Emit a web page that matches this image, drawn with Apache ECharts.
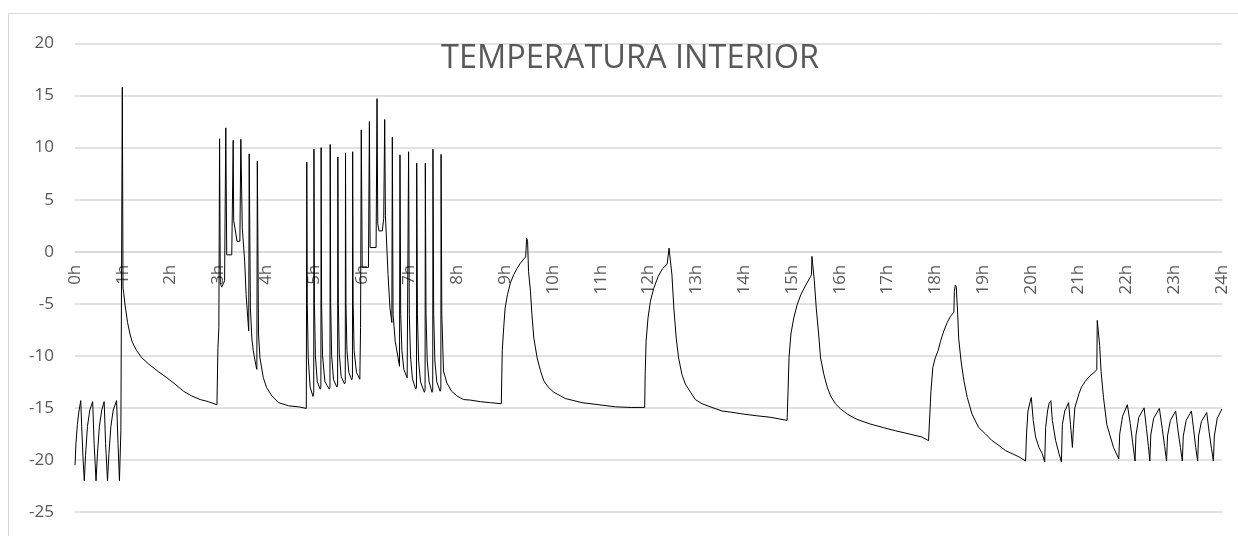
<!DOCTYPE html>
<html>
<head>
<meta charset="utf-8">
<script src="https://cdn.jsdelivr.net/npm/echarts@6/dist/echarts.min.js"></script>
<style>
  html, body { margin: 0; padding: 0; background: #ffffff; }
  #chart { width: 1238px; height: 536px; }
</style>
</head>
<body>
<div id="chart"></div>
<script>
const chartTitle = 'TEMPERATURA INTERIOR';
const hourLabels = ['0h','1h','2h','3h','4h','5h','6h','7h','8h','9h','10h','11h','12h','13h','14h','15h','16h','17h','18h','19h','20h','21h','22h','23h','24h'];
const yTicks = [-25, -20, -15, -10, -5, 0, 5, 10, 15, 20];

// time in hours
const hours = [
  0.00,0.02,0.05,0.08,0.12,0.14,0.17,0.195,0.22,0.26,0.31,0.37,0.40,0.44,0.47,0.51,0.56,0.61,0.64,0.68,0.71,0.75,0.80,0.87,0.90,0.93,0.96,
  0.99,1.005,1.02,1.05,1.10,1.15,1.20,1.29,1.40,1.57,1.74,1.92,2.09,2.27,2.44,2.62,2.79,2.97,
  2.99,3.01,3.025,3.04,3.07,3.13,3.155,3.175,3.28,3.31,3.32,3.35,3.39,3.45,3.47,3.50,3.55,3.58,3.62,3.635,3.645,3.67,3.70,3.73,3.78,3.805,3.815,
  3.84,3.87,3.94,4.01,4.12,4.26,4.47,4.68,4.84,
  4.85,4.86,4.88,4.92,4.98,4.995,
  5.00,5.01,5.03,5.07,5.13,5.145,
  5.15,5.16,5.18,5.23,5.32,5.335,
  5.34,5.35,5.37,5.41,5.48,5.495,
  5.50,5.51,5.53,5.57,5.64,5.655,
  5.66,5.67,5.69,5.73,5.79,5.805,
  5.81,5.82,5.84,5.89,5.96,5.975,
  5.99,6.01,6.14,6.16,6.175,6.30,6.32,6.335,6.36,6.43,6.46,6.48,6.495,6.55,6.59,6.63,
  6.64,6.655,6.70,6.76,6.79,
  6.80,6.815,6.84,6.88,6.95,6.97,
  6.98,6.995,7.02,7.06,7.13,7.145,
  7.15,7.165,7.19,7.23,7.31,7.325,
  7.33,7.345,7.37,7.41,7.47,7.485,
  7.49,7.505,7.53,7.57,7.64,7.655,
  7.66,7.675,7.71,7.78,7.88,7.99,8.13,8.27,8.48,8.69,8.92,
  8.94,8.97,9.00,9.05,9.11,9.18,9.25,9.32,9.39,9.43,9.45,9.47,9.49,9.53,9.56,9.60,9.67,9.74,9.81,9.91,10.02,10.16,10.26,10.61,10.96,11.31,11.65,11.92,
  11.93,11.95,11.99,12.04,12.11,12.20,12.29,12.39,12.42,12.43,12.46,12.49,12.53,12.58,12.63,12.70,12.77,12.88,12.98,13.12,13.33,13.54,13.71,13.99,14.27,14.55,14.90,
  14.92,14.94,14.98,15.04,15.11,15.19,15.28,15.39,15.41,15.42,15.45,15.47,15.51,15.56,15.60,15.67,15.74,15.81,15.91,16.02,16.16,16.36,16.64,16.92,17.17,17.45,17.72,17.86,17.89,
  17.91,17.95,18.00,18.06,18.11,18.18,18.25,18.32,18.39,18.40,18.42,18.44,18.47,18.49,18.54,18.60,18.67,18.77,18.91,19.05,19.19,19.33,19.47,19.61,19.75,19.89,
  19.91,19.94,19.98,20.01,20.05,20.10,20.17,20.24,20.29,20.31,20.35,20.38,20.42,20.45,20.52,20.59,20.64,20.66,20.71,20.79,20.83,20.87,
  20.89,20.92,21.01,21.06,21.13,21.24,21.35,21.38,21.39,21.41,21.44,21.47,21.52,21.59,21.66,21.73,21.84,
  21.86,21.92,22.02,22.08,22.13,22.18,22.20,22.26,22.37,22.42,22.46,22.49,22.51,22.57,22.69,22.75,22.80,22.84,22.86,22.92,
  23.03,23.08,23.13,23.17,23.19,23.25,23.36,23.41,23.45,23.49,23.51,23.57,23.68,23.73,23.78,23.82,23.84,23.90,24.00
];

// interior temperature (°C)
const temps = [
  -20.5,-18.4,-16.6,-15.4,-14.3,-16.8,-20.0,-22.0,-19.6,-16.8,-15.2,-14.4,-18.4,-22.0,-19.4,-16.8,-15.2,-14.4,-18.4,-22.0,-19.4,-16.8,-15.2,-14.3,-18.4,-22.0,-17.2,
  15.8,-3.5,-4.0,-5.2,-6.8,-7.9,-8.7,-9.5,-10.2,-10.9,-11.5,-12.1,-12.7,-13.4,-13.85,-14.2,-14.4,-14.7,
  -9.3,-7.3,10.85,-3.0,-3.4,-2.8,11.9,-0.3,-0.3,10.7,3.0,2.2,1.0,1.0,10.8,2.3,-0.9,-4.1,-6.7,-7.6,9.4,-5.4,-8.3,-9.5,-10.8,-11.3,8.7,
  -7.9,-10.2,-12.1,-13.05,-13.85,-14.5,-14.8,-14.9,-15.05,
  8.6,-5.0,-10.2,-13.0,-13.9,-13.5,
  9.85,-5.0,-10.0,-12.5,-13.2,-13.0,
  10.0,-5.0,-10.0,-12.5,-13.2,-13.0,
  10.3,-5.0,-10.0,-12.3,-13.0,-12.8,
  9.1,-5.0,-9.8,-12.0,-12.7,-12.5,
  9.5,-5.0,-9.5,-11.6,-12.3,-12.1,
  9.6,-5.0,-9.5,-11.6,-12.25,-7.3,
  11.7,-1.5,-1.5,12.5,0.4,0.4,14.7,2.7,2.0,2.0,3.2,12.7,3.5,-2.2,-5.4,-6.8,
  11.0,-6.0,-8.6,-10.2,-11.0,
  9.3,-6.0,-9.5,-11.3,-12.1,-12.0,
  9.6,-6.0,-10.0,-12.2,-13.2,-13.0,
  8.5,-6.0,-10.5,-12.5,-13.5,-13.3,
  8.5,-6.0,-10.5,-12.5,-13.5,-13.3,
  9.85,-6.0,-10.5,-12.5,-13.4,-13.2,
  9.35,-6.0,-11.45,-12.6,-13.4,-13.85,-14.2,-14.25,-14.4,-14.5,-14.6,
  -9.5,-7.3,-5.4,-4.1,-3.0,-2.2,-1.6,-1.1,-0.7,-0.5,1.3,1.0,-1.9,-3.8,-6.0,-8.3,-10.2,-11.45,-12.4,-13.05,-13.5,-13.85,-14.1,-14.5,-14.7,-14.9,-14.96,-14.95,
  -11.8,-8.6,-6.35,-4.75,-3.5,-2.4,-1.65,-1.2,-1.1,0.35,0.2,-2.2,-5.4,-8.3,-10.2,-11.8,-12.7,-13.5,-14.2,-14.6,-14.96,-15.3,-15.4,-15.6,-15.76,-15.9,-16.2,
  -13.4,-10.2,-7.9,-6.35,-5.1,-4.1,-3.3,-2.4,-2.2,-0.45,-0.6,-2.8,-5.4,-7.9,-10.2,-11.8,-13.0,-13.85,-14.6,-15.1,-15.6,-16.1,-16.55,-16.9,-17.2,-17.5,-17.8,-18.15,-18.3,
  -13.4,-11.1,-10.2,-9.5,-8.6,-7.6,-6.8,-6.2,-5.8,-3.8,-3.2,-3.4,-6.0,-8.3,-10.5,-12.4,-14.0,-15.6,-16.9,-17.5,-18.15,-18.6,-19.1,-19.4,-19.7,-20.1,
  -17.5,-15.3,-14.5,-14.0,-16.2,-17.8,-18.8,-19.4,-20.2,-16.9,-15.3,-14.6,-14.3,-16.2,-18.15,-19.4,-20.2,-16.6,-15.3,-14.5,-16.6,-18.8,
  -17.0,-15.0,-13.6,-13.0,-12.5,-11.9,-11.5,-11.3,-6.6,-6.7,-9.0,-11.5,-14.0,-16.6,-17.7,-18.8,-19.9,
  -17.5,-15.8,-14.7,-16.5,-18.3,-20.1,-17.6,-15.9,-15.0,-17.0,-18.7,-20.1,-17.6,-16.0,-15.05,-17.0,-18.7,-20.1,-17.7,-16.2,
  -15.3,-17.2,-18.8,-20.1,-17.7,-16.2,-15.3,-17.2,-18.8,-20.1,-17.7,-16.3,-15.45,-17.3,-18.9,-20.1,-17.7,-16.0,-15.1
];

const seriesData = hours.map((h, i) => [h, temps[i]]);

const GRID_TOP = 43.5, GRID_BOTTOM = 24, CHART_H = 536;
const plotH = CHART_H - GRID_TOP - GRID_BOTTOM;
const yMin = yTicks[0], yMax = yTicks[yTicks.length - 1];
// distance from bottom of the plot to the zero line (x axis crosses at 0)
const zeroOffset = plotH * (0 - yMin) / (yMax - yMin);

const chart = echarts.init(document.getElementById('chart'), null, { renderer: 'canvas' });
const labelFont = "'Open Sans', 'Noto Sans', sans-serif";
chart.setOption({
  animation: false,
  backgroundColor: '#ffffff',
  title: {
    text: chartTitle,
    left: 630,
    top: 42,
    padding: 0,
    textAlign: 'center',
    textStyle: { fontFamily: labelFont, fontSize: 32.5, fontWeight: 'normal', color: '#595959' }
  },
  graphic: [{
    type: 'rect',
    shape: { x: 8.5, y: 13.5, width: 1400, height: 700 },
    style: { fill: 'none', stroke: '#d9d9d9', lineWidth: 1 },
    silent: true,
    z: -1
  }],
  grid: { left: 75, right: 16, top: GRID_TOP, bottom: GRID_BOTTOM, containLabel: false },
  xAxis: {
    type: 'value',
    position: 'bottom',
    offset: -zeroOffset,
    min: 0,
    max: 24,
    interval: 1,
    axisLine: { show: true, onZero: false, lineStyle: { color: '#d9d9d9', width: 1.5 } },
    axisTick: { show: false },
    splitLine: { show: false },
    axisLabel: {
      rotate: 90,
      margin: 13,
      color: '#595959',
      fontSize: 17,
      fontFamily: labelFont,
      formatter: (v) => hourLabels[Math.round(v)] || ''
    }
  },
  yAxis: {
    type: 'value',
    min: yMin,
    max: yMax,
    interval: 5,
    axisLine: { show: false, onZero: false },
    axisTick: { show: false },
    splitLine: { show: true, lineStyle: { color: '#d9d9d9', width: 1.5 } },
    axisLabel: { margin: 21, color: '#595959', fontSize: 17, fontFamily: labelFont }
  },
  series: [{
    type: 'line',
    data: seriesData,
    showSymbol: false,
    symbol: 'none',
    lineStyle: { color: '#000000', width: 1 },
    z: 3
  }]
});
</script>
</body>
</html>
